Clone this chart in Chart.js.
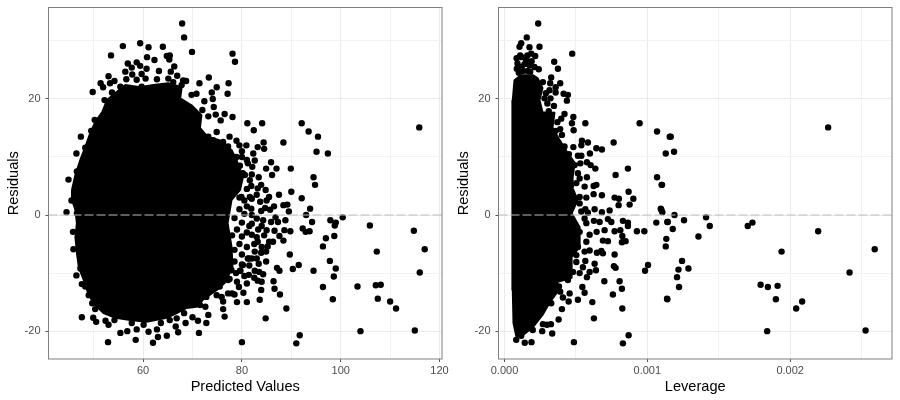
<!DOCTYPE html>
<html>
<head>
<meta charset="utf-8">
<script src="https://cdn.jsdelivr.net/npm/chart.js"></script>
<style>
  body { margin: 0; background: white; width: 900px; height: 400px; overflow: hidden; }
  canvas { position: absolute; top: 0; }
  #chartPredicted { left: 0; }
  #chartLeverage { left: 450px; }
</style>
</head>
<body>
<canvas id="chartPredicted" width="450" height="400"></canvas>
<canvas id="chartLeverage" width="450" height="400"></canvas>
<script>
// left panel: outline of the solid overplotted core, then the dots that can be told apart
const predictedCore = [
  [45.6,4.3],[46.3,6.9],[47.3,9.5],[48.3,11.7],[49.3,14.1],[50.3,16.0],[51.7,17.7],[52.7,19.8],
  [54.4,21.0],[56.4,22.4],[59.4,22.0],[62.1,22.4],[65.1,22.7],[67.8,22.0],[67.5,20.1],[69.8,18.9],
  [71.8,17.2],[71.5,15.0],[73.1,13.4],[75.5,12.9],[77.9,11.2],[78.9,9.5],[80.2,6.5],[79.6,4.3],
  [77.9,2.6],[77.1,-1.4],[77.9,-5.5],[78.1,-9.0],[76.5,-11.7],[74.9,-12.9],[72.1,-14.6],[70.8,-15.8],
  [68.8,-16.0],[66.8,-16.9],[64.8,-17.7],[60.7,-18.4],[57.4,-18.1],[54.4,-17.7],[52.0,-16.9],[50.3,-15.5],
  [49.0,-13.8],[48.0,-11.2],[47.0,-9.0],[46.6,-6.5],[46.3,-3.8],[46.6,-1.4],[46.3,0.9],[45.6,2.6],[45.6,4.3]
];
const predictedPoints = [
  [67.9,33.0],[68.3,30.6],[69.9,28.1],[78.1,27.8],[78.6,26.4],[55.9,29.1],[53.5,27.5],[59.4,29.6],
  [61.1,28.9],[64.0,29.0],[60.8,27.2],[62.3,26.7],[64.8,27.4],[65.4,27.5],[65.3,26.8],[56.9,26.1],
  [58.7,26.3],[57.7,25.4],[59.4,25.7],[60.7,25.2],[56.4,24.7],[53.0,23.9],[57.8,24.2],[59.7,24.3],
  [63.2,24.8],[66.3,25.6],[65.6,24.7],[66.9,24.0],[73.3,23.7],[71.4,22.7],[77.3,22.7],[74.9,22.0],
  [77.1,20.9],[73.9,21.1],[49.8,21.2],[51.4,22.7],[51.9,22.0],[53.3,22.7],[54.2,23.1],[56.6,23.4],
  [55.4,22.1],[58.7,23.3],[60.5,23.5],[62.8,23.4],[65.1,23.5],[66.1,22.9],[68.1,23.2],[68.7,23.1],
  [67.8,22.4],[59.7,22.1],[62.8,22.0],[53.7,21.1],[57.0,21.5],[52.2,19.8],[70.8,20.9],[69.8,20.7],
  [66.1,21.6],[74.1,20.0],[72.4,19.6],[74.3,18.6],[68.8,18.8],[72.0,18.1],[76.5,17.4],[78.1,16.9],
  [74.7,17.3],[73.2,17.0],[75.7,16.3],[81.1,15.8],[50.2,16.4],[49.5,14.5],[47.4,13.5],[46.5,10.6],
  [48.3,11.6],[47.8,8.3],[46.6,7.5],[44.9,6.1],[74.9,14.3],[73.2,13.5],[77.5,13.5],[78.9,12.8],
  [80.9,12.0],[76.2,12.6],[74.2,12.9],[77.2,11.8],[78.9,10.0],[76.2,10.6],[81.2,8.9],[79.6,8.5],
  [80.2,7.2],[77.9,7.2],[81.6,6.0],[78.5,5.5],[82.4,14.6],[84.1,15.8],[92.1,15.8],[93.5,14.4],
  [95.4,13.5],[115.9,15.1],[88.4,12.5],[84.4,12.5],[83.2,11.7],[84.5,11.4],[82.3,10.6],[95.1,10.9],
  [97.4,10.6],[85.9,9.1],[82.6,9.4],[87.0,8.0],[84.9,8.0],[89.9,8.0],[82.1,8.3],[86.1,6.9],
  [83.4,6.5],[94.5,6.5],[94.8,5.2],[90.0,4.0],[87.5,3.5],[85.5,3.1],[92.1,2.9],[83.9,5.2],
  [81.9,5.0],[83.2,4.6],[80.6,6.9],[79.9,3.1],[81.6,3.1],[83.7,2.3],[81.9,1.1],[88.4,1.7],
  [89.2,1.8],[93.8,1.1],[89.5,0.6],[85.7,0.9],[83.9,0.7],[93.0,0.0],[97.9,-0.9],[100.4,-0.4],
  [99.0,-1.3],[98.8,-1.8],[94.2,-1.2],[105.9,-1.8],[114.8,-2.7],[88.8,-0.9],[87.3,-1.2],[84.3,-0.9],
  [85.9,-1.2],[92.3,-2.3],[92.9,-2.9],[93.7,-2.8],[89.8,-2.8],[88.6,-2.6],[86.6,-2.7],[87.6,-3.6],
  [88.4,-4.4],[86.3,-4.6],[85.5,-4.6],[83.2,-4.6],[97.0,-4.0],[98.7,-3.6],[96.4,-5.4],[107.3,-6.3],
  [117.0,-5.9],[89.7,-6.8],[84.9,-6.3],[83.9,-6.5],[82.6,-6.3],[81.4,-7.5],[84.9,-8.0],[83.4,-8.4],
  [91.5,-8.6],[97.8,-7.9],[99.0,-9.2],[90.3,-9.3],[94.5,-9.6],[87.1,-9.1],[87.6,-9.6],[84.3,-10.2],
  [82.6,-9.6],[81.4,-10.3],[79.7,-9.6],[98.6,-10.6],[116.0,-9.9],[83.2,-11.3],[86.4,-11.4],[107.1,-12.1],
  [108.1,-12.0],[103.4,-12.3],[96.4,-12.4],[86.6,-12.7],[83.9,-12.9],[79.4,-12.4],[80.3,-13.4],[87.7,-13.7],
  [78.5,-13.7],[79.0,-15.0],[81.0,-15.0],[83.6,-14.6],[98.4,-14.5],[107.5,-14.4],[110.0,-14.9],[111.2,-16.1],
  [89.0,-16.1],[84.8,-17.8],[104.0,-20.0],[115.0,-19.9],[91.7,-20.7],[91.0,-22.1],[80.0,-21.9],
  [78.5,4.0],[79.5,3.0],[80.5,2.5],[81.0,1.5],[79.5,1.0],[80.5,0.2],[82.0,0.0],[83.0,-0.6],
  [78.5,-0.5],[80.0,-1.3],[81.5,-1.9],[79.0,-2.5],[78.0,-3.5],[80.0,-3.7],[82.0,-3.4],[83.3,-2.5],
  [84.5,-3.5],[79.5,-5.0],[81.0,-5.5],[82.5,-5.0],[78.5,-6.0],[80.0,-6.8],[82.0,-7.5],[78.5,-8.0],
  [80.0,-8.5],[81.5,-8.7],[78.8,-10.0],[82.5,-10.8],[83.5,-9.8],[77.5,-11.0],[78.0,-13.5],
  [80.0,11.0],[79.5,12.0],[82.0,7.0],[81.0,4.5],[79.0,6.0],[81.0,9.5],[80.0,10.0],[83.0,3.5],
  [84.8,4.3],[85.0,2.5],[86.5,1.5],[82.0,2.8],[84.7,1.2],[86.8,-0.4],[82.0,-1.5],[84.0,-1.9],
  [83.0,-3.8],[85.0,-2.6],[84.0,-5.5],[85.2,-5.4],[81.0,-3.0],[83.0,-7.5],[80.5,-10.5],[81.0,-11.8],
  [79.0,-11.5],[84.0,-11.5],
  [45.5,2.5],[44.5,0.5],[46.6,0.3],[45.8,-2.9],[45.9,-5.9],[46.5,-10.4],[47.3,-9.2],[47.6,-11.9],
  [48.3,-12.3],[49.0,-13.8],[49.7,-15.2],[50.3,-16.2],[47.6,-17.6],[49.9,-17.7],[50.5,-18.4],[52.4,-18.2],
  [53.0,-18.9],[54.2,-18.1],[52.9,-21.9],[55.4,-20.3],[56.8,-20.0],[58.7,-19.7],[58.5,-21.5],[57.7,-18.6],
  [60.1,-18.9],[61.1,-20.1],[62.8,-19.7],[63.0,-21.0],[62.0,-22.0],[64.8,-20.8],[67.1,-20.2],[66.6,-19.2],
  [68.6,-18.6],[63.6,-18.6],[65.4,-18.1],[66.8,-17.8],[68.3,-16.9],[70.0,-17.6],[71.1,-18.2],[71.3,-20.3],
  [72.8,-18.6],[73.2,-17.2],[76.5,-17.5],[76.2,-16.2],[76.2,-14.9],[72.6,-15.8],[71.5,-15.5],[68.1,-15.5],
  [75.5,-12.3],[77.2,-13.5],[74.9,-13.8],[75.9,-14.1],[72.8,-14.1],[77.2,-11.2],[79.6,-9.6],[81.2,-7.5],
  [80.2,-8.6],[77.9,-9.5]
];

// right panel, same idea
const leverageCore = [
  [0.000058,19.8],[0.00007,23.2],[0.000117,24.1],[0.000198,24.1],[0.000231,23.6],[0.000266,21.9],[0.000245,19.8],
  [0.000266,17.7],[0.00035,17.6],[0.000336,15.1],[0.000386,12.9],[0.000442,10.7],[0.000491,9.0],[0.000477,6.5],
  [0.000477,4.6],[0.000512,2.6],[0.00047,0.3],[0.000526,-2.1],[0.000526,-5.5],[0.00047,-7.2],[0.00047,-10.8],
  [0.000372,-11.5],[0.000365,-13.4],[0.000315,-15.1],[0.000266,-17.2],[0.000196,-19.4],[0.000126,-20.7],
  [0.000084,-21.0],[0.000063,-18.6],[0.000058,-12.9],[0.000054,-1.4],[0.000054,4.3],[0.000058,19.8]
];
const leveragePoints = [
  [0.000236,33.0],[0.000156,30.6],[0.000245,29.0],[0.000117,29.6],[0.000105,29.0],[0.000175,28.9],[0.000474,27.8],
  [0.00011,27.5],[0.000215,27.4],[0.000187,27.8],[0.000348,26.4],[0.000374,25.2],[0.000091,26.1],[0.000086,25.2],
  [0.000152,26.7],[0.000175,25.8],[0.00021,25.5],[0.00024,25.1],[0.000163,24.8],[0.000327,23.7],[0.000269,22.9],
  [0.00039,22.7],[0.00032,22.7],[0.000358,22.0],[0.000315,21.5],[0.000358,21.1],[0.000414,20.9],[0.000444,20.7],
  [0.000322,20.1],[0.000437,19.7],[0.000346,18.8],[0.00028,20.1],[0.00042,17.4],[0.000482,16.9],[0.000566,15.8],
  [0.000946,15.8],[0.000397,16.6],[0.000472,15.8],[0.000484,14.6],[0.001068,14.4],[0.001157,13.5],[0.000358,14.5],
  [0.000402,13.8],[0.000764,12.5],[0.000542,12.8],[0.000584,12.5],[0.000538,12.0],[0.000482,11.7],[0.000643,11.5],
  [0.000682,11.3],[0.00042,11.8],[0.001129,10.6],[0.000598,10.6],[0.000451,10.5],[0.000514,10.2],[0.000538,10.2],
  [0.000577,9.1],[0.000603,8.6],[0.000531,8.9],[0.000491,8.6],[0.000636,8.0],[0.000864,8.0],[0.000514,7.2],
  [0.000778,6.9],[0.001068,6.5],[0.0011,5.2],[0.000577,6.5],[0.000526,6.3],[0.000643,5.2],[0.000624,5.0],
  [0.000561,4.9],[0.000503,5.5],[0.000468,5.2],[0.000869,4.0],[0.000902,2.8],[0.000771,3.0],[0.000801,2.8],
  [0.000682,3.4],[0.000624,3.6],[0.000573,3.0],[0.000526,3.1],[0.000799,1.7],[0.000876,1.8],[0.001094,1.1],
  [0.001105,0.5],[0.000736,0.8],[0.000682,0.5],[0.000631,1.0],[0.000566,1.0],[0.000584,0.4],[0.000526,2.0],
  [0.000538,0.6],[0.001063,-1.3],[0.00114,-1.2],[0.000829,-1.0],[0.000864,-1.3],[0.000864,-1.9],[0.000724,-0.7],
  [0.000748,-1.2],[0.000666,-1.2],[0.000626,-1.0],[0.000561,-0.6],[0.000573,-1.4],[0.000927,-2.8],[0.000979,-2.8],
  [0.000701,-2.6],[0.000645,-2.9],[0.000771,-2.8],[0.000811,-2.6],[0.000825,-3.6],[0.001133,-4.1],[0.001129,-5.4],
  [0.000848,-4.5],[0.000822,-4.7],[0.000724,-4.5],[0.000689,-4.4],[0.000596,-3.4],[0.000573,-4.6],[0.000526,-2.9],
  [0.000514,-5.5],[0.000596,-6.1],[0.000561,-6.3],[0.000647,-6.5],[0.000678,-6.2],[0.000689,-6.6],[0.000771,-6.8],
  [0.000503,-6.9],[0.000566,-7.9],[0.000503,-8.1],[0.000631,-8.4],[0.001005,-8.6],[0.000984,-9.6],[0.000766,-8.8],
  [0.000778,-9.1],[0.00064,-9.5],[0.000596,-9.8],[0.000549,-9.0],[0.000526,-10.0],[0.000577,-10.7],[0.000479,-9.8],
  [0.000444,-11.2],[0.000699,-11.4],[0.000806,-11.4],[0.000822,-12.7],[0.000759,-13.7],[0.000545,-12.4],[0.000561,-13.4],
  [0.000456,-13.5],[0.000381,-12.3],[0.00039,-13.2],[0.000409,-14.2],[0.000449,-14.9],[0.000514,-14.6],[0.000615,-15.0],
  [0.001138,-14.4],[0.000327,-15.2],[0.000402,-16.2],[0.000825,-16.1],[0.000379,-18.0],[0.000626,-17.8],[0.000269,-18.8],
  [0.000297,-18.9],[0.000325,-18.8],[0.000264,-20.0],[0.000334,-20.4],[0.000869,-20.7],[0.000829,-22.1],[0.000486,-21.9],
  [0.000189,-21.9],[0.000142,-22.0],[0.000082,-21.5],[0.000117,-20.8],[0.000198,-19.8],
  [0.002266,15.1],[0.001164,13.5],[0.001187,10.9],[0.001103,5.2],[0.001098,0.9],[0.00119,0.0],[0.001143,-1.2],
  [0.001257,-0.9],[0.001411,-0.4],[0.001437,-1.9],[0.001178,-2.4],[0.001358,-3.7],[0.001736,-1.3],[0.001703,-1.9],
  [0.002196,-2.8],[0.002592,-5.9],[0.00194,-6.3],[0.001243,-7.9],[0.001218,-9.4],[0.001288,-9.2],[0.001208,-10.7],
  [0.001222,-12.4],[0.002416,-9.9],[0.001793,-12.0],[0.001844,-12.4],[0.001912,-12.2],[0.0019,-14.5],[0.00114,-14.5],
  [0.002084,-14.9],[0.002042,-16.1],[0.001839,-20.0],[0.002528,-19.9],
  [0.000085,27.0],[0.0001,24.5],[0.00012,25.5],[0.00014,26.0],[0.00016,27.5],[0.00019,26.5],[0.00012,27.2],
  [0.00018,24.7],[0.00013,24.8],[0.00029,21.0],[0.00030,19.2],[0.00031,17.9],[0.00037,16.0],[0.00039,14.8]
];

const yMajor = [-20, 0, 20];
const yMinor = [-10, 10, 30];
const predictedMajor = [60, 80, 100, 120];
const predictedMinor = [50, 70, 90, 110];
const leverageMajor = [0, 0.001, 0.002];
const leverageMinor = [0.0005, 0.0015, 0.0025];

const tickFont = { family: "'Liberation Sans', sans-serif", size: 11 };
const titleFont = { family: "'Liberation Sans', sans-serif", size: 14.6 };

const toXY = pairs => pairs.map(p => ({ x: p[0], y: p[1] }));

// ggplot style box drawn over the data
const panelBorder = {
  id: 'panelBorder',
  afterDraw(chart) {
    const a = chart.chartArea, c = chart.ctx;
    c.save();
    c.strokeStyle = '#7f7f7f';
    c.lineWidth = 1;
    c.strokeRect(a.left, a.top, a.right - a.left, a.bottom - a.top);
    c.restore();
  }
};

// afterFit: pin the axis thickness and drop the label overhang so the panels land in place
const fixWidth = w => s => { s.width = w; s.paddingTop = 0; s.paddingBottom = 0; s.paddingLeft = 0; s.paddingRight = 0; };
const fixHeight = h => s => { s.height = h; s.paddingTop = 0; s.paddingBottom = 0; s.paddingLeft = 0; s.paddingRight = 0; };

function axis(major, minor, title, format, min, max, fit, tickPad, titlePad) {
  const isMajor = v => major.some(m => Math.abs(m - v) < 1e-9);
  return {
    type: 'linear',
    min: min,
    max: max,
    afterBuildTicks: s => { s.ticks = major.concat(minor).map(v => ({ value: v })); },
    afterFit: fit,
    border: { display: false },
    grid: {
      tickLength: 3,
      color: ctx => isMajor(ctx.tick.value) ? '#ebebeb' : '#f2f2f2',
      tickColor: ctx => isMajor(ctx.tick.value) ? '#555555' : 'rgba(0,0,0,0)'
    },
    ticks: {
      autoSkip: false,
      maxRotation: 0,
      padding: tickPad,
      color: '#4d4d4d',
      font: tickFont,
      callback: v => isMajor(v) ? format(v) : ''
    },
    title: { display: true, text: title, color: '#000000', font: titleFont, padding: titlePad }
  };
}

function makeChart(id, core, points, xOpts, xMin, xMax) {
  new Chart(document.getElementById(id), {
    type: 'scatter',
    data: {
      datasets: [
        {
          data: [{ x: xMin, y: 0 }, { x: xMax, y: 0 }],
          showLine: true,
          pointRadius: 0,
          borderColor: '#bebebe',
          borderWidth: 1.1,
          borderDash: [9, 3]
        },
        {
          data: toXY(points),
          pointRadius: 3.2,
          pointBorderWidth: 0,
          pointBackgroundColor: '#000000'
        },
        {
          data: toXY(core),
          showLine: true,
          pointRadius: 0,
          borderColor: '#000000',
          borderWidth: 2,
          borderJoinStyle: 'round',
          backgroundColor: '#000000',
          fill: 'shape'
        }
      ]
    },
    options: {
      responsive: false,
      animation: false,
      layout: { autoPadding: false, padding: { top: 7.5, right: 8, bottom: 0, left: 0 } },
      plugins: { legend: { display: false }, tooltip: { enabled: false } },
      scales: {
        x: xOpts,
        y: axis(yMajor, yMinor, 'Residuals', v => String(v), -24.8, 35.75, fixWidth(48.5), 5, { top: 5, bottom: 0 })
      }
    },
    plugins: [panelBorder]
  });
}

makeChart('chartPredicted', predictedCore, predictedPoints,
  axis(predictedMajor, predictedMinor, 'Predicted Values', v => String(v), 40.85, 120.5, fixHeight(41), 2, { top: 1, bottom: 4 }),
  40.85, 120.5);

makeChart('chartLeverage', leverageCore, leveragePoints,
  axis(leverageMajor, leverageMinor, 'Leverage', v => v.toFixed(3), -0.000042, 0.002713, fixHeight(41), 2, { top: 1, bottom: 4 }),
  -0.000042, 0.002713);
</script>
</body>
</html>
